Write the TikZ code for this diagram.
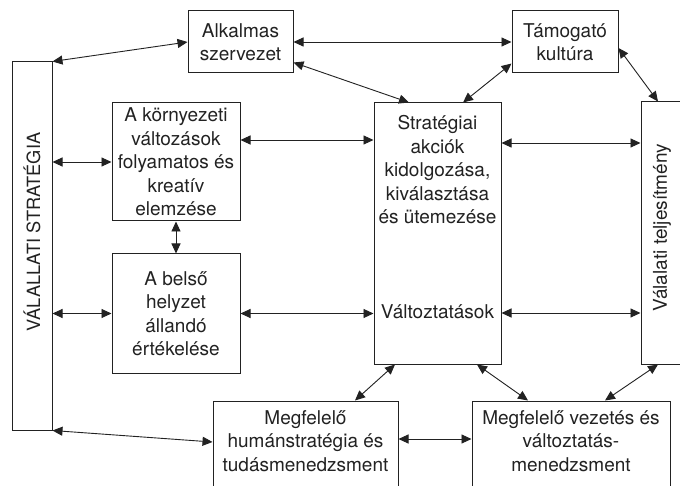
\documentclass[tikz,border=0pt]{standalone}
\usepackage{fontspec}
\setmainfont{TeX Gyre Heros}
\usetikzlibrary{arrows.meta,calc}
\definecolor{ink}{HTML}{222222}
\begin{document}
\begin{tikzpicture}[x=1pt,y=-1pt,
  box/.style={draw=ink,line width=1pt,inner sep=0pt,text=ink},
  txt/.style={text=ink,align=center,inner sep=0pt,font=\fontsize{19}{23.5}\selectfont},
  conn/.style={draw=ink,line width=0.9pt,{Triangle[length=10pt,width=9pt]}-{Triangle[length=10pt,width=9pt]}}]
\useasboundingbox (0,0) rectangle (680,486);
\clip (0,0) rectangle (680,486);
\fill[white] (0,0) rectangle (680,486);
% boxes
\node[box,minimum width=40pt,minimum height=368pt] (L) at (32,246) {};
\node[txt,rotate=90,font=\fontsize{18.2}{22}\selectfont] (Ltxt) at (32,232) {VÁLALLATI STRATÉGIA};
\node[box,minimum width=105pt,minimum height=62pt,txt] (Alk) at (240.5,42) {Alkalmas\\szervezet};
\node[box,minimum width=106pt,minimum height=62pt,txt] (Tam) at (565,42) {Támogató\\kultúra};
\node[box,minimum width=128pt,minimum height=118pt,txt] (Korny) at (176,162) {A környezeti\\változások\\folyamatos és\\kreatív\\elemzése};
\node[box,minimum width=128pt,minimum height=119pt,txt] (Belso) at (176,313.5) {A belső\\helyzet\\állandó\\értékelése};
\node[box,minimum width=127pt,minimum height=261pt] (Strat) at (437.5,233.5) {};
\node[txt] (Strattxt) at (437.5,170) {Stratégiai\\akciók\\kidolgozása,\\kiválasztása\\és ütemezése};
\node[txt] (Valt) at (437.5,312) {Változtatások};
\node[box,minimum width=59pt,minimum height=262pt] (Vall) at (670.5,233) {};
\node[txt,rotate=90] (Valltxt) at (662,228) {Válalati teljesítmény};
\node[box,minimum width=185pt,minimum height=99pt] (Hum) at (305.5,450.5) {};
\node[txt] (Humtxt) at (305.5,441) {Megfelelő\\humánstratégia és\\tudásmenedzsment};
\node[box,minimum width=198pt,minimum height=99pt] (Vez) at (571,450.5) {};
\node[txt] (Veztxt) at (571,441) {Megfelelő vezetés és\\változtatás-\\menedzsment};
% helper coordinates
\coordinate (a1) at ([yshift=11pt]Alk.south east);
\coordinate (s1) at ([xshift=-28.5pt]Strat.north);
\coordinate (t1) at ([yshift=10pt]Tam.south west);
\coordinate (s2) at ([xshift=25.5pt]Strat.north);
\coordinate (t2) at ([yshift=-6pt]Tam.east);
\coordinate (v1) at ([xshift=-12.5pt]Vall.north);
\coordinate (k1) at ([yshift=22pt]Korny.east);
\coordinate (s3) at ([yshift=90.5pt]Strat.east);
\coordinate (s4) at ([yshift=-79.5pt]Strat.east);
\coordinate (h1) at ([yshift=8.5pt]Hum.west);
\coordinate (h2) at ([xshift=49.5pt]Hum.north);
\coordinate (s5) at ([xshift=-42.5pt]Strat.south);
\coordinate (s6) at ([xshift=39.5pt]Strat.south);
\coordinate (z1) at ([xshift=-43pt]Vez.north);
\coordinate (v2) at ([xshift=-12.5pt]Vall.south);
\coordinate (z2) at ([xshift=34pt]Vez.north);
\coordinate (h3) at ([yshift=11.5pt]Hum.east);
% connectors
\draw[conn] (L.north east) -- (Alk.west);
\draw[conn] (Alk.east) -- (Tam.west);
\draw[conn] (a1) -- (s1);
\draw[conn] (t1) -- (s2);
\draw[conn] (t2) -- (v1);
\draw[conn] (L.east |- Korny.west) -- (Korny.west);
\draw[conn] (k1) -- (Strat.west |- k1);
\draw[conn] (Korny.south) -- (Belso.north);
\draw[conn] (L.east |- Belso.west) -- (Belso.west);
\draw[conn] (Belso.east) -- (Strat.west |- Belso.east);
\draw[conn] (s3) -- (Vall.west |- s3);
\draw[conn] (s4) -- (Vall.west |- s4);
\draw[conn] (L.south east) -- (h1);
\draw[conn] (h2) -- (s5);
\draw[conn] (s6) -- (z1);
\draw[conn] (v2) -- (z2);
\draw[conn] (h3) -- (Vez.west |- h3);
\end{tikzpicture}
\end{document}
